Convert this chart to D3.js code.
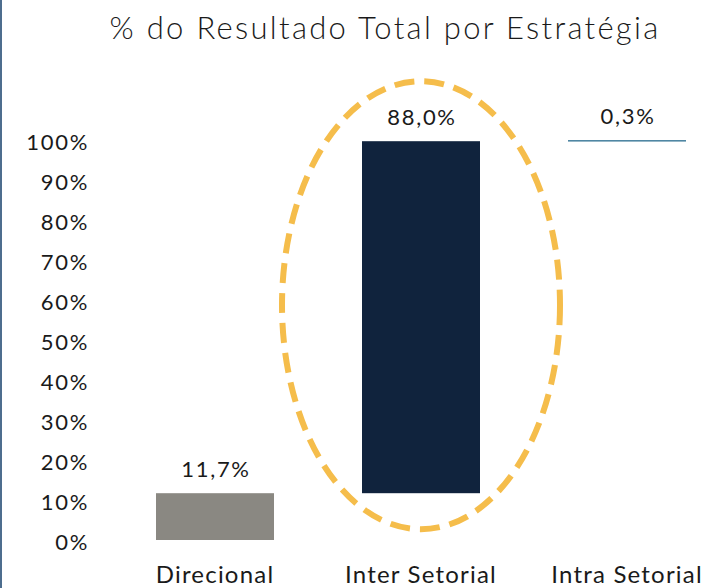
<!DOCTYPE html>
<html>
<head>
<meta charset="utf-8">
<script src="https://cdn.jsdelivr.net/npm/d3@7"></script>
<style>
  body { margin: 0; background: #ffffff; }
  text { font-family: Lato, "Open Sans", sans-serif; fill: #1a1a1a; }
</style>
</head>
<body>
<script>
var width = 717;
var height = 588;

// data
var categories = ["Direcional", "Inter Setorial", "Intra Setorial"];
var values = [11.7, 88.0, 0.3];
var valueLabels = ["11,7%", "88,0%", "0,3%"];
var colors = ["#8a8882", "#10233d", "#4f86a3"];
var yTicks = [0, 10, 20, 30, 40, 50, 60, 70, 80, 90, 100];

var svg = d3.select("body")
  .append("svg")
  .attr("width", width)
  .attr("height", height);

// left border line
svg.append("rect")
  .attr("x", 0)
  .attr("y", 0)
  .attr("width", 2)
  .attr("height", height)
  .attr("fill", "#4d6d8e");

svg.append("text")
  .attr("x", 385)
  .attr("y", 39)
  .attr("text-anchor", "middle")
  .attr("font-size", 31)
  .attr("font-weight", 300)
  .attr("letter-spacing", 2.3)
  .attr("fill", "#111111")
  .text("% do Resultado Total por Estratégia");

var x = d3.scaleBand()
  .domain(categories)
  .range([112, 730])
  .paddingInner(88 / 206)
  .paddingOuter(44 / 206);

var y = d3.scaleLinear()
  .domain([0, 100])
  .range([540, 140]);

// waterfall bases
var bars = [];
var run = 0;
for (var i = 0; i < categories.length; i ++) {
  bars.push({ cat: categories[i], start: run, end: run + values[i], label: valueLabels[i], color: colors[i] });
  run += values[i];
}

var yAxis = d3.axisLeft(y)
  .tickValues(yTicks)
  .tickFormat(function (d) { return d + "%"; })
  .tickSize(0)
  .tickPadding(0);
var yg = svg.append("g")
  .attr("transform", "translate(89,2)")
  .call(yAxis);
yg.select(".domain").remove();
yg.selectAll("text")
  .attr("font-size", 22)
  .attr("font-weight", 400)
  .attr("letter-spacing", 1.7)
  .style("font-family", "Lato, sans-serif")
  .attr("fill", "#1a1a1a");

svg.append("g").selectAll("rect")
  .data(bars)
  .enter()
  .append("rect")
  .attr("x", function (d) { return x(d.cat); })
  .attr("width", x.bandwidth())
  .attr("y", function (d) { return y(d.end); })
  .attr("height", function (d) { return Math.max(1.6, y(d.start) - y(d.end)); })
  .attr("fill", function (d) { return d.color; });

svg.append("g").selectAll("text")
  .data(bars)
  .enter()
  .append("text")
  .attr("x", function (d) { return x(d.cat) + x.bandwidth() / 2 + 1; })
  .attr("y", function (d) { return y(d.end) - 16; })
  .attr("text-anchor", "middle")
  .attr("font-size", 22)
  .attr("font-weight", 400)
  .attr("letter-spacing", 1.7)
  .text(function (d) { return d.label; });

var xAxis = d3.axisBottom(x).tickSize(0).tickPadding(0);
var xg = svg.append("g")
  .attr("transform", "translate(0,566)")
  .call(xAxis);
xg.select(".domain").remove();
xg.selectAll("text")
  .attr("font-size", 24)
  .attr("font-weight", 400)
  .attr("letter-spacing", 1.2)
  .style("font-family", "Lato, sans-serif")
  .attr("fill", "#1a1a1a");

// highlight ellipse around Inter Setorial
var mid = bars[1];
svg.append("ellipse")
  .attr("cx", x(mid.cat) + x.bandwidth() / 2)
  .attr("cy", (y(mid.start) + y(mid.end)) / 2 - 12)
  .attr("rx", 139)
  .attr("ry", 224)
  .attr("fill", "none")
  .attr("stroke", "#f5bd4b")
  .attr("stroke-width", 6)
  .attr("stroke-dasharray", "20 10");
</script>
</body>
</html>
